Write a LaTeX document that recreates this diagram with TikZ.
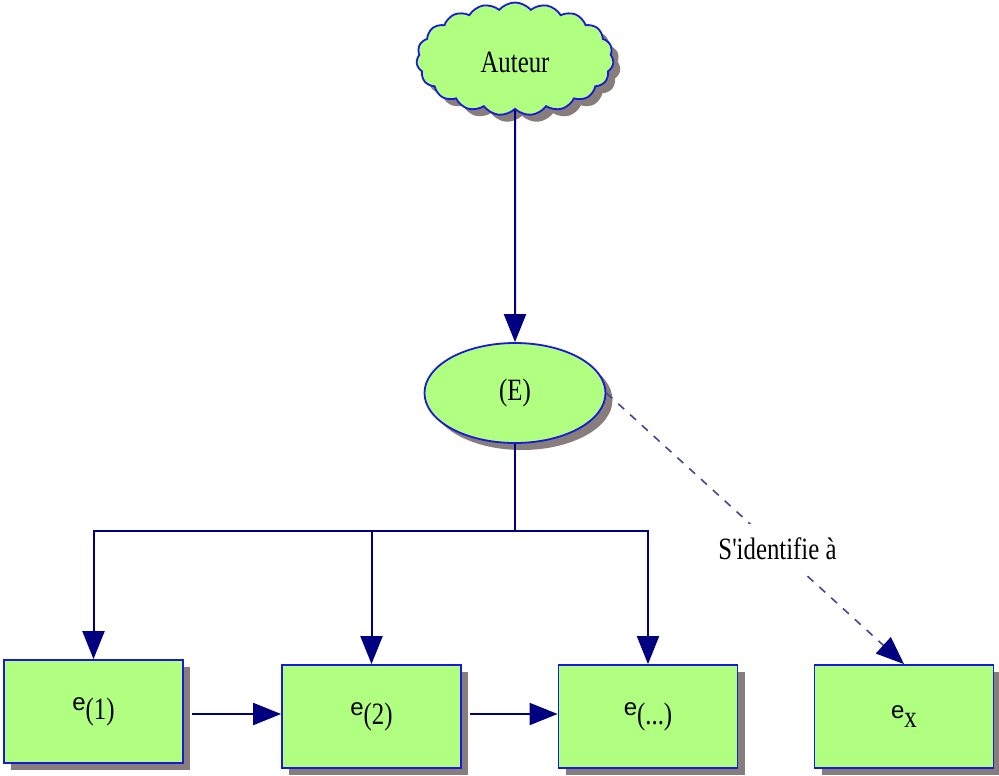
\documentclass[tikz,border=0pt]{standalone}
\usepackage{fontspec}
\setmainfont{Liberation Serif}
\newfontfamily\esans{Liberation Sans}
\usetikzlibrary{shapes.symbols,shapes.geometric,shadows,arrows.meta}

\definecolor{fillgreen}{RGB}{176,255,128}
\definecolor{edgeblue}{RGB}{25,25,215}
\definecolor{navyline}{RGB}{0,0,128}
\definecolor{dashline}{RGB}{70,70,150}
\definecolor{shadowgray}{RGB}{135,125,125}

% condensed serif label text
\newcommand{\lbl}[1]{\scalebox{0.8}[1]{\fontsize{31}{36}\selectfont #1}}
\newcommand{\ee}{{\esans\fontsize{24}{28}\selectfont e}}

\begin{document}
\begin{tikzpicture}[x=1pt,y=-1pt,
  base/.style={draw=edgeblue, line width=1.8pt, fill=fillgreen,
    drop shadow={shadow xshift=7pt, shadow yshift=-7pt, fill=shadowgray, opacity=1}},
  box/.style={base, rectangle, minimum width=179pt, minimum height=103pt, inner sep=0pt},
  conn/.style={draw=navyline, line width=2pt},
  arr/.style={conn, -{Triangle[length=28pt,width=22pt]}},
  dasharr/.style={draw=dashline, line width=1.6pt, dash pattern=on 8pt off 8pt,
    -{Triangle[length=28pt,width=22pt,fill=navyline,color=navyline]}},
]
\path[use as bounding box] (0,0) rectangle (999,776);

% nodes
\node[base, cloud, cloud puffs=19, cloud puff arc=100, aspect=1.75,
      minimum width=197pt, minimum height=113pt, inner sep=0pt] (auteur) at (515,59)
      {\raisebox{-14pt}[0pt][0pt]{\lbl{Auteur}}};
\node[base, ellipse, minimum width=181pt, minimum height=100pt, inner sep=0pt] (E) at (515,393) {\lbl{(E)}};

\node[box] (e1) at (93.5,711.5) {\ee\raisebox{-9pt}{\lbl{(1)}}};
\node[box] (e2) at (371.5,716.5) {\ee\raisebox{-9pt}{\lbl{(2)}}};
\node[box] (en) at (648,716.5) {\ee\raisebox{-9pt}{\lbl{(...)}}};
\node[box] (ex) at (904,716.5) {\ee\raisebox{-9pt}{\lbl{x}}};

% connectors
\draw[arr] (auteur) -- (E);
\coordinate (j) at (515,531);
\draw[conn] (E) -- (j);
\draw[arr] (j) -| (e1);
\draw[arr] (j) -| (e2);
\draw[arr] (j) -| (en);
\coordinate (row) at (0,714);
\draw[arr] ([xshift=8pt]e1.east |- row) -- (e2.west |- row);
\draw[arr] ([xshift=8pt]e2.east |- row) -- (en.west |- row);

\draw[dasharr] (E.east) -- (ex.north)
  node[pos=0.575, fill=white, inner xsep=8pt, inner ysep=14pt, text=black] (lab)
  {\lbl{S\textquotesingle identifie à}};
\end{tikzpicture}
\end{document}
